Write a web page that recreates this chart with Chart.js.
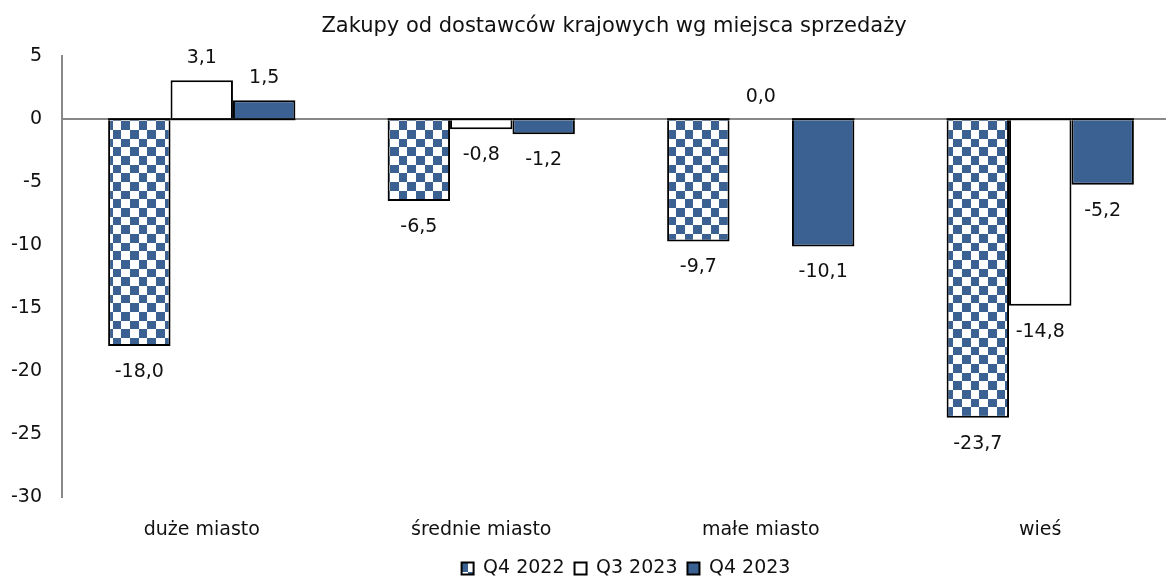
<!DOCTYPE html>
<html>
<head>
<meta charset="utf-8">
<script src="https://cdn.jsdelivr.net/npm/chart.js@4.4.1/dist/chart.umd.min.js"></script>
<style>
html,body{margin:0;padding:0;background:#fff;overflow:hidden;}
#wrap{position:relative;width:1242px;height:581px;}
</style>
</head>
<body>
<div id="wrap"><canvas id="c" width="1242" height="581"></canvas></div>
<script>
const title = "Zakupy od dostawców krajowych wg miejsca sprzedaży";
const categories = ["duże miasto", "średnie miasto", "małe miasto", "wieś"];
const seriesNames = ["Q4 2022", "Q3 2023", "Q4 2023"];
const q4_2022 = [-18.0, -6.5, -9.7, -23.7];
const q3_2023 = [3.1, -0.8, 0.0, -14.8];
const q4_2023 = [1.5, -1.2, -10.1, -5.2];
const yTicks = [5, 0, -5, -10, -15, -20, -25, -30];

const BLUE = "#3a6191";
const FONT = "DejaVu Sans";

function checker() {
  const size = 52;
  const c = document.createElement("canvas");
  c.width = size; c.height = size;
  const g = c.getContext("2d");
  g.fillStyle = "#fff"; g.fillRect(0, 0, size, size);
  g.fillStyle = BLUE;
  const b = [0, 9, 17, 26, 35, 43, 52];
  for (let i = 0; i < 6; i++) for (let j = 0; j < 6; j++) {
    if ((i + j) % 2 === 0) g.fillRect(b[i], b[j], b[i+1]-b[i], b[j+1]-b[j]);
  }
  return document.getElementById("c").getContext("2d").createPattern(c, "repeat");
}
const pattern = checker();

const labelPlugin = {
  id: "vals",
  afterLayout(chart) {
    if (chart.titleBlock) { chart.titleBlock.left += 24; chart.titleBlock.right += 24; }
    if (chart.legend) {
      chart.legend.left += 36; chart.legend.right += 36;
      chart.legend.top -= 5; chart.legend.bottom -= 5;
    }
  },
  afterDatasetsDraw(chart) {
    const ctx = chart.ctx;
    const zero = chart.scales.y.getPixelForValue(0);
    ctx.save();
    // black edge of each non-zero bar along the zero line
    ctx.fillStyle = "#000";
    chart.data.datasets.forEach((ds, di) => {
      chart.getDatasetMeta(di).data.forEach((el, i) => {
        if (ds.data[i] !== 0) ctx.fillRect(el.x - el.width / 2, zero - 1, el.width, 2);
      });
    });
    ctx.font = "19px '" + FONT + "'";
    ctx.fillStyle = "#111";
    ctx.textAlign = "center";
    ctx.textBaseline = "middle";
    chart.data.datasets.forEach((ds, di) => {
      const meta = chart.getDatasetMeta(di);
      meta.data.forEach((el, i) => {
        const v = ds.data[i];
        const txt = v.toFixed(1).replace(".", ",");
        const y = v >= 0 ? el.y - 22 : el.y + 26;
        ctx.fillText(txt, el.x, y);
      });
    });
    ctx.restore();
  }
};

new Chart(document.getElementById("c"), {
  type: "bar",
  data: {
    labels: categories,
    datasets: [
      { label: seriesNames[0], data: q4_2022, backgroundColor: pattern, borderColor: "#000", borderWidth: 2, borderSkipped: "start" },
      { label: seriesNames[1], data: q3_2023, backgroundColor: "#fff", borderColor: "#000", borderWidth: 2, borderSkipped: "start" },
      { label: seriesNames[2], data: q4_2023, backgroundColor: BLUE, borderColor: "#000", borderWidth: 2, borderSkipped: "start" }
    ]
  },
  options: {
    responsive: false,
    animation: false,
    categoryPercentage: 0.67,
    barPercentage: 1.0,
    layout: { padding: { left: 0, right: 62, top: 0, bottom: -12 } },
    plugins: {
      title: { display: true, text: title, color: "#111", font: { family: FONT, size: 21, weight: "normal" }, padding: { top: 14, bottom: 17 } },
      legend: {
        position: "bottom",
        labels: { color: "#111", font: { family: FONT, size: 19 }, boxWidth: 12, boxHeight: 12, padding: 10 }
      },
      tooltip: { enabled: false }
    },
    scales: {
      x: {
        grid: { display: false },
        border: { display: false },
        ticks: { color: "#111", font: { family: FONT, size: 19 }, padding: 13 }
      },
      y: {
        min: -30, max: 5,
        afterBuildTicks(axis) { axis.ticks = yTicks.map(v => ({ value: v })); },
        grid: {
          drawTicks: false,
          color: ctx => (ctx.tick && ctx.tick.value === 0) ? "#888" : "rgba(0,0,0,0)",
          lineWidth: 2
        },
        border: { display: true, color: "#888", width: 2 },
        ticks: { color: "#111", font: { family: FONT, size: 19 }, padding: 20 },
        afterFit(axis) { axis.width = 62; }
      }
    }
  },
  plugins: [labelPlugin]
});
</script>
</body>
</html>
